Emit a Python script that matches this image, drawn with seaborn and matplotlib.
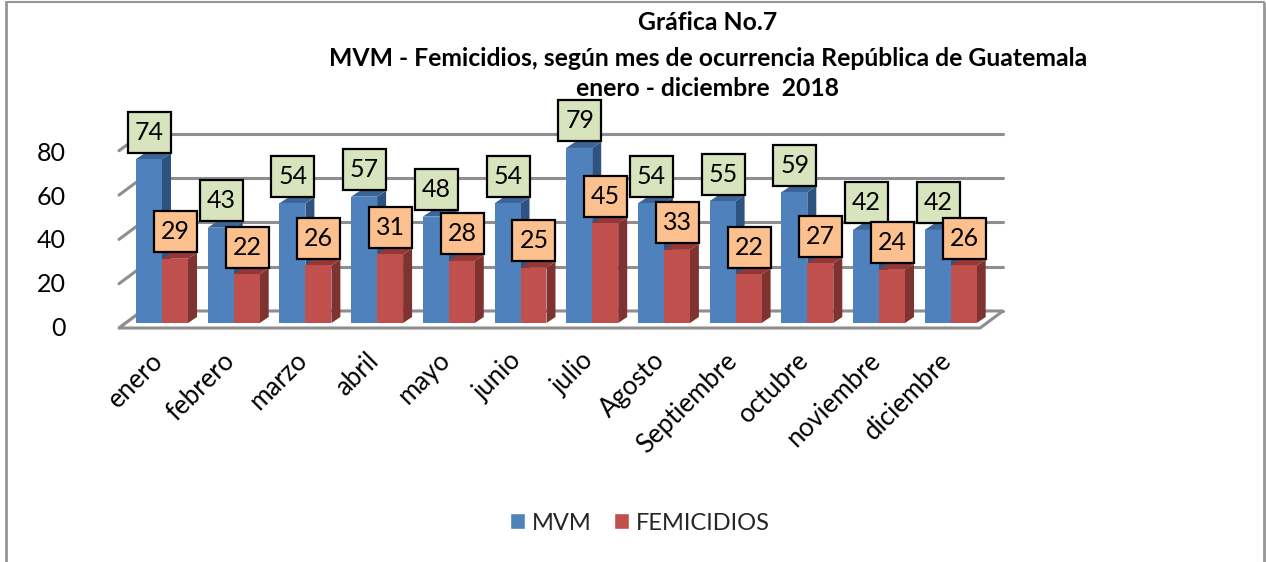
import pandas as pd
import matplotlib.pyplot as plt
import seaborn as sns
from matplotlib.patches import Polygon, Rectangle

# Values
months = ['enero', 'febrero', 'marzo', 'abril', 'mayo', 'junio', 'julio',
          'Agosto', 'Septiembre', 'octubre', 'noviembre', 'diciembre']
mvm = [74, 43, 54, 57, 48, 54, 79, 54, 55, 59, 42, 42]
femicidios = [29, 22, 26, 31, 28, 25, 45, 33, 22, 27, 24, 26]
y_ticks = [0, 20, 40, 60, 80]
title_lines = ['Gráfica No.7',
               'MVM - Femicidios, según mes de ocurrencia República de Guatemala',
               'enero - diciembre  2018']

df = pd.DataFrame({'mes': months * 2,
                   'casos': mvm + femicidios,
                   'serie': ['MVM'] * 12 + ['FEMICIDIOS'] * 12})

sns.set_theme(style='white')
plt.rcParams['font.family'] = ['Lato', 'DejaVu Sans']

W, H = 1266, 562
fig = plt.figure(figsize=(W / 100, H / 100), dpi=100)
ax = fig.add_axes([0, 0, 1, 1])

# Scales: one category = 71.7 px, one case = 2.216 px
PX = 1 / 71.7
PY = 1 / 2.216
X0, Y0 = 162, 323
ax_xlim = (-X0 * PX, (W - X0) * PX)
ax_ylim = (-(H - Y0) * PY, Y0 * PY)

BLUE = '#4F81BD'
RED = '#C0504D'
sns.barplot(data=df, x='mes', y='casos', hue='serie', order=months,
            palette={'MVM': BLUE, 'FEMICIDIOS': RED}, width=0.725,
            saturation=1, legend=False, ax=ax, linewidth=0, edgecolor='none')
ax.set_xlim(ax_xlim)
ax.set_ylim(ax_ylim)
ax.set_axis_off()


def px_x(x):
    return (x - X0) * PX


def px_y(y):
    return (Y0 - y) * PY


# Back wall, side wall and floor of the fake 3D box
GRID = '#8E8E8E'
back_y = 311
for v in y_ticks:
    ax.plot([px_x(142), px_x(1003)], [px_y(back_y) + v] * 2, color=GRID, lw=2.2, zorder=1)
    ax.plot([px_x(119), px_x(142)], [px_y(328) + v, px_y(back_y) + v], color=GRID, lw=2.2, zorder=1)
ax.add_patch(Polygon([(px_x(119), px_y(328)), (px_x(980), px_y(328)),
                      (px_x(1003), px_y(311)), (px_x(142), px_y(311))],
                     closed=True, fc='white', ec=GRID, lw=2.2, zorder=2))

# Side and top faces of the bars
DX = 9 * PX
DY = 6 * PY
faces = [(ax.containers[0], '#2F5380', '#3A6596'), (ax.containers[1], '#7F3331', '#953735')]
for n, (bars, side, top) in enumerate(faces):
    for bar in bars:
        x0, x1 = bar.get_x(), bar.get_x() + bar.get_width()
        h = bar.get_height()
        z = 3 + n * 3
        bar.set_zorder(z + 1)
        ax.add_patch(Polygon([(x1, 0), (x1 + DX, DY), (x1 + DX, h + DY), (x1, h)],
                             closed=True, fc=side, ec='none', zorder=z))
        ax.add_patch(Polygon([(x0, h), (x0 + DX, h + DY), (x1 + DX, h + DY), (x1, h)],
                             closed=True, fc=top, ec='none', zorder=z))

# Data labels, boxes have a fixed size in pixels
box_w = 43 * PX
box_h = 41 * PY
styles = [(ax.containers[0], '#D7E4BD', 10), (ax.containers[1], '#FCBF8E', 12)]
for bars, fill, z in styles:
    for bar in bars:
        h = bar.get_height()
        cx = bar.get_x() + bar.get_width() / 2 + 0.5 * PX
        cy = h + 27 * PY
        ax.add_patch(Rectangle((cx - box_w / 2, cy - box_h / 2), box_w, box_h,
                               fc=fill, ec='black', lw=1.6, zorder=z))
        ax.text(cx, cy, f'{int(h)}', ha='center', va='center', fontsize=18,
                color='black', zorder=z + 1)

# Tick labels
for v in y_ticks:
    ax.text(px_x(66), px_y(328.5) + v * 2.19 / 2.216, str(v), ha='right', va='center',
            fontsize=18, color='black')
for i, m in enumerate(months):
    ax.text(i - 11.5 * PX, px_y(348), m, rotation=45, rotation_mode='anchor',
            ha='right', va='top', fontsize=18.5, color='black')

# Title
for line, y in zip(title_lines, [22, 58, 89]):
    ax.text(px_x(708), px_y(y), line, ha='center', va='center', fontsize=17.8,
            fontweight='bold', color='black')

# Legend
handles = [plt.Rectangle((0, 0), 1, 1, fc=BLUE), plt.Rectangle((0, 0), 1, 1, fc=RED)]
ax.legend(handles, ['MVM', 'FEMICIDIOS'], ncol=2, frameon=False, fontsize=17,
          loc='center', bbox_to_anchor=(640 / W, 1 - 523 / H), handlelength=0.64,
          handleheight=0.64, handletextpad=0.3, columnspacing=0.95)

# Chart border
ax.plot([px_x(6), px_x(6)], [px_y(562), px_y(3)], color='#969696', lw=2)
ax.plot([px_x(1264), px_x(1264)], [px_y(562), px_y(3)], color='#969696', lw=2)
ax.plot([px_x(6), px_x(1264)], [px_y(2.5), px_y(2.5)], color='#969696', lw=1.5)

fig.savefig('out.png', dpi=100)
